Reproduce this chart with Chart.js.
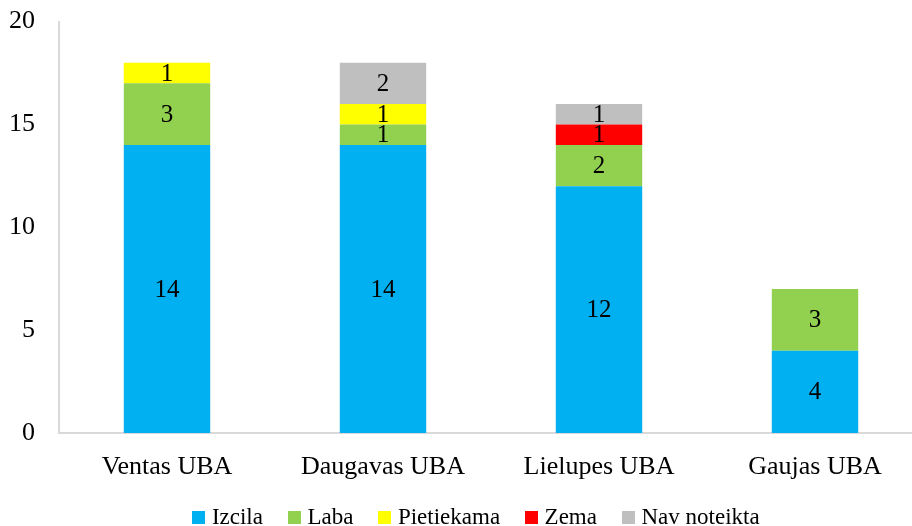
<!DOCTYPE html>
<html>
<head>
<meta charset="utf-8">
<script src="https://cdn.jsdelivr.net/npm/chart.js@4/dist/chart.umd.min.js"></script>
<style>
html,body{margin:0;padding:0;background:#fff;overflow:hidden;width:912px;height:526px;position:relative;}
#wrap{position:absolute;left:0;top:-18px;width:952px;height:544px;}
</style>
</head>
<body>
<div id="wrap"><canvas id="c" width="952" height="544"></canvas></div>
<script>
const categories = ["Ventas UBA", "Daugavas UBA", "Lielupes UBA", "Gaujas UBA"];
const izcila = [14, 14, 12, 4];
const laba = [3, 1, 2, 3];
const pietiekama = [1, 1, null, null];
const zema = [null, null, 1, null];
const navNoteikta = [null, 2, 1, null];
const seriesNames = ["Izcila", "Laba", "Pietiekama", "Zema", "Nav noteikta"];
const yTicks = [0, 5, 10, 15, 20];

const FONT = "'Liberation Serif', 'Times New Roman', serif";
const colors = ["#00B0F0", "#92D050", "#FFFF00", "#FF0000", "#BFBFBF"];
const seriesData = [izcila, laba, pietiekama, zema, navNoteikta];

const valueLabels = {
  id: 'valueLabels',
  afterDatasetsDraw(chart) {
    const ctx = chart.ctx;
    ctx.save();
    ctx.font = "25px " + FONT;
    ctx.fillStyle = "#000";
    ctx.textAlign = "center";
    ctx.textBaseline = "middle";
    chart.data.datasets.forEach((ds, i) => {
      const meta = chart.getDatasetMeta(i);
      meta.data.forEach((el, j) => {
        const v = ds.data[j];
        if (v === null || v === undefined || v === 0) return;
        const p = el.getProps(['x', 'y', 'base'], true);
        ctx.fillText(String(v), p.x, (p.y + p.base) / 2 + 1);
      });
    });
    ctx.restore();
  }
};

// Draws the legend colour squares close to their text, as in the reference.
const legendSquares = {
  id: 'legendSquares',
  afterDraw(chart) {
    const lg = chart.legend;
    if (!lg || !lg.legendHitBoxes) return;
    const ctx = chart.ctx;
    ctx.save();
    lg.legendHitBoxes.forEach((hb, i) => {
      const item = lg.legendItems[i];
      const c = chart.data.datasets[item.datasetIndex].backgroundColor;
      ctx.fillStyle = c;
      const cy = hb.top + hb.height / 2;
      ctx.fillRect(Math.round(hb.left), Math.round(cy - 6.5), 13, 13);
    });
    ctx.restore();
  }
};

new Chart(document.getElementById('c'), {
  type: 'bar',
  data: {
    labels: categories,
    datasets: seriesData.map((d, i) => ({
      label: seriesNames[i],
      data: d,
      backgroundColor: colors[i],
      borderWidth: 0,
      categoryPercentage: 1.0,
      barPercentage: 0.4
    }))
  },
  options: {
    responsive: false,
    animation: false,
    devicePixelRatio: 1,
    layout: { padding: { top: 0, bottom: -13, left: 0, right: 0 } },
    plugins: {
      legend: {
        position: 'bottom',
        labels: {
          boxWidth: 8,
          boxHeight: 13,
          padding: 25,
          color: '#000',
          font: { family: FONT, size: 23 },
          generateLabels(chart) {
            const items = Chart.defaults.plugins.legend.labels.generateLabels(chart);
            items.forEach(it => {
              it.fillStyle = 'rgba(0,0,0,0)';
              it.strokeStyle = 'rgba(0,0,0,0)';
              it.lineWidth = 0;
            });
            return items;
          }
        }
      },
      tooltip: { enabled: false }
    },
    scales: {
      x: {
        stacked: true,
        grid: { display: false, drawTicks: false },
        border: { color: '#D9D9D9', width: 2 },
        ticks: { color: '#000', font: { family: FONT, size: 26 }, padding: 19, maxRotation: 0 },
        afterFit(s) { s.height = 48; }
      },
      y: {
        stacked: true,
        min: 0,
        max: 20,
        afterBuildTicks(s) { s.ticks = yTicks.map(v => ({ value: v })); },
        grid: { display: false, drawTicks: false },
        border: { color: '#D9D9D9', width: 2 },
        ticks: { color: '#000', font: { family: FONT, size: 26 }, padding: 24 },
        afterFit(s) { s.width = 59; }
      },
      y2: {
        position: 'right',
        display: true,
        grid: { display: false, drawTicks: false },
        border: { display: false },
        ticks: { display: false },
        afterFit(s) { s.width = 29; }
      }
    }
  },
  plugins: [valueLabels, legendSquares]
});
</script>
</body>
</html>
